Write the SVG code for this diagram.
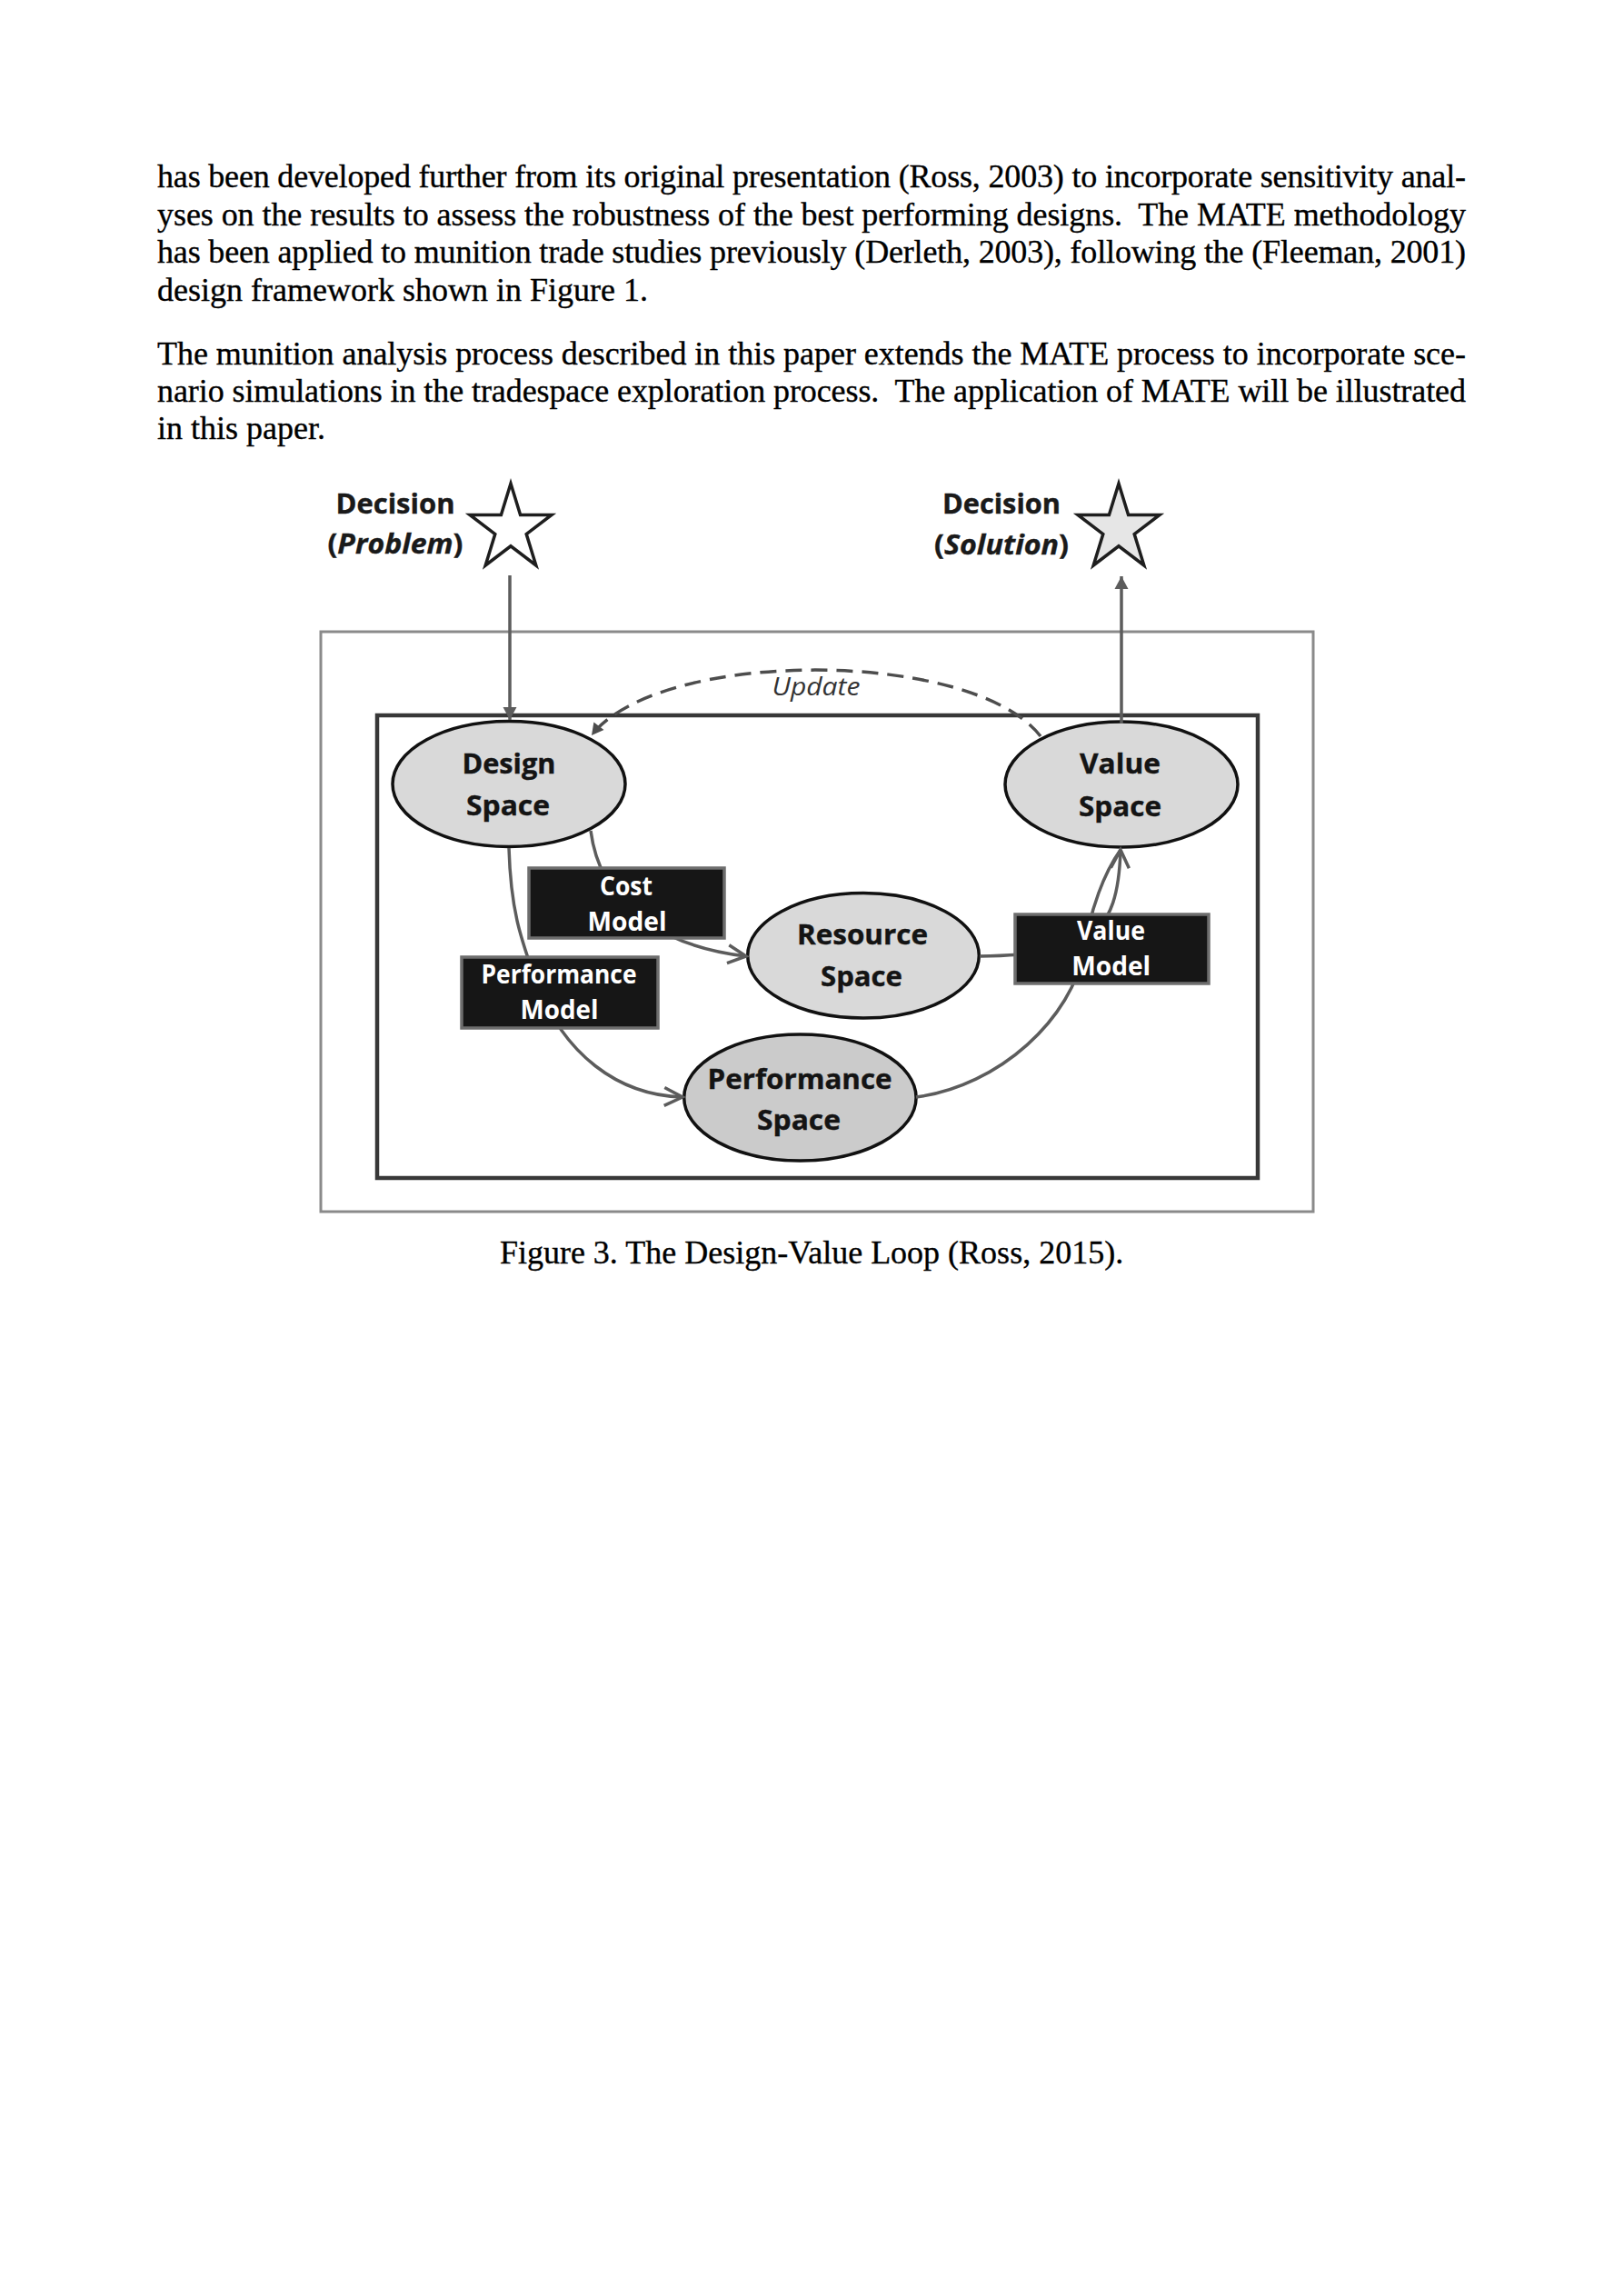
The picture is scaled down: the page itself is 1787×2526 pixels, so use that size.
<svg xmlns="http://www.w3.org/2000/svg" width="1787" height="2526" viewBox="0 0 1787 2526">
<style>
.body{font-family:"Liberation Serif","Times New Roman",serif;font-size:36px;fill:#000;stroke:#000;stroke-width:0.35}
.cap{font-family:"Liberation Serif","Times New Roman",serif;font-size:36px;fill:#000;stroke:#000;stroke-width:0.35;text-anchor:middle}
.lbl{font-family:"Open Sans","Liberation Sans",sans-serif;font-weight:700;font-size:31px;fill:#141414;stroke:#141414;stroke-width:0.4;text-anchor:middle}
.blbl{font-family:"Open Sans","Liberation Sans",sans-serif;font-weight:700;font-size:29px;fill:#fff;text-anchor:middle}
.dec{font-family:"Open Sans","Liberation Sans",sans-serif;font-weight:700;font-size:30px;fill:#1a1a1a;stroke:#1a1a1a;stroke-width:0.4;text-anchor:middle}
.upd{font-family:"Open Sans","Liberation Sans",sans-serif;font-style:italic;font-size:27px;fill:#333;text-anchor:middle}
.ell{fill:#d9d9d9;stroke:#111;stroke-width:3.5}
.box{fill:#161616;stroke:#6e6e6e;stroke-width:3.5}
.conn{fill:none;stroke:#5c5c5c;stroke-width:3.5}
.star{stroke:#1e1e1e;stroke-width:3.5;stroke-linejoin:miter}
</style>
<defs>
<marker id="arrFill" markerUnits="userSpaceOnUse" markerWidth="16" markerHeight="16" refX="14" refY="7.5" orient="auto" overflow="visible">
<path d="M0,0 L14,7.5 L0,15 z" fill="#5c5c5c" stroke="none"/>
</marker>
<marker id="arrSmall" markerUnits="userSpaceOnUse" markerWidth="16" markerHeight="16" refX="13" refY="7" orient="auto" overflow="visible">
<path d="M0,0 L13,7 L0,14 z" fill="#4d4d4d" stroke="none"/>
</marker>
<marker id="arrOpen" markerUnits="userSpaceOnUse" markerWidth="22" markerHeight="22" refX="20" refY="10" orient="auto" overflow="visible">
<path d="M0,0 L20,10 L0,20" fill="none" stroke="#5c5c5c" stroke-width="3.5"/>
</marker>
<path id="starShape" d="M0,-49.75 L10.6,-15.35 L45,-15.35 L17.2,5.85 L27.8,40.25 L0,19 L-27.8,40.25 L-17.2,5.85 L-45,-15.35 L-10.6,-15.35 Z"/>
</defs>
<rect width="1787" height="2526" fill="#fff"/>

<g id="body-text">
<text class="body" x="173" y="206" textLength="1440" xml:space="preserve">has been developed further from its original presentation (Ross, 2003) to incorporate sensitivity anal-</text>
<text class="body" x="173" y="248" textLength="1440" xml:space="preserve">yses on the results to assess the robustness of the best performing designs.  The MATE methodology</text>
<text class="body" x="173" y="289" textLength="1440" xml:space="preserve">has been applied to munition trade studies previously (Derleth, 2003), following the (Fleeman, 2001)</text>
<text class="body" x="173" y="331" xml:space="preserve">design framework shown in Figure 1.</text>
<text class="body" x="173" y="401" textLength="1440" xml:space="preserve">The munition analysis process described in this paper extends the MATE process to incorporate sce-</text>
<text class="body" x="173" y="442" textLength="1440" xml:space="preserve">nario simulations in the tradespace exploration process.  The application of MATE will be illustrated</text>
<text class="body" x="173" y="483" xml:space="preserve">in this paper.</text>
</g>

<g id="frame-outer">
<rect x="353" y="695" width="1092" height="638" fill="none" stroke="#8a8a8a" stroke-width="3"/>
</g>
<g id="frame-inner">
<rect x="415" y="787" width="969" height="509" fill="none" stroke="#383838" stroke-width="4.5"/>
</g>

<g id="decision-problem">
<use href="#starShape" x="562" y="581.75" fill="#fff" class="star"/>
<text class="dec" x="435" y="565" textLength="131" lengthAdjust="spacingAndGlyphs">Decision</text>
<text class="dec" x="435" y="609" textLength="149" lengthAdjust="spacingAndGlyphs">(<tspan font-style="italic">Problem</tspan>)</text>
</g>

<g id="decision-solution">
<use href="#starShape" x="1231" y="581.75" fill="#e6e6e6" class="star"/>
<text class="dec" x="1102" y="565" textLength="130" lengthAdjust="spacingAndGlyphs">Decision</text>
<text class="dec" x="1102" y="610" textLength="148" lengthAdjust="spacingAndGlyphs">(<tspan font-style="italic">Solution</tspan>)</text>
</g>

<g id="design-space">
<ellipse class="ell" cx="560" cy="862.5" rx="128" ry="69"/>
<text class="lbl" x="560" y="851" textLength="103" lengthAdjust="spacingAndGlyphs">Design</text>
<text class="lbl" x="559" y="897" textLength="92" lengthAdjust="spacingAndGlyphs">Space</text>
</g>

<g id="value-space">
<ellipse class="ell" cx="1234" cy="863" rx="128" ry="69"/>
<text class="lbl" x="1232.5" y="851" textLength="89" lengthAdjust="spacingAndGlyphs">Value</text>
<text class="lbl" x="1232.5" y="898" textLength="91" lengthAdjust="spacingAndGlyphs">Space</text>
</g>

<g id="resource-space">
<ellipse class="ell" cx="950" cy="1051.3" rx="127.3" ry="68.7"/>
<text class="lbl" x="949" y="1039" textLength="144" lengthAdjust="spacingAndGlyphs">Resource</text>
<text class="lbl" x="948" y="1085" textLength="90" lengthAdjust="spacingAndGlyphs">Space</text>
</g>

<g id="performance-space">
<ellipse class="ell" cx="880.4" cy="1207.5" rx="127.7" ry="69.5" style="fill:#cbcbcb"/>
<text class="lbl" x="880" y="1198" textLength="203" lengthAdjust="spacingAndGlyphs">Performance</text>
<text class="lbl" x="879" y="1243" textLength="92" lengthAdjust="spacingAndGlyphs">Space</text>
</g>

<g id="connectors">
<path class="conn" d="M561 633 L561 792" marker-end="url(#arrFill)"/>
<path class="conn" d="M1234 796 L1234 634" marker-end="url(#arrFill)"/>
<path d="M1145 810 C1070 713 725 713 651 809" fill="none" stroke="#4d4d4d" stroke-width="3.5" stroke-dasharray="18 10" marker-end="url(#arrSmall)"/>
<path class="conn" d="M650 914 C660 990 720 1040 821 1052" marker-end="url(#arrOpen)"/>
<path class="conn" d="M560 933 C562 1000 572 1030 590 1080 C620 1160 680 1205 751 1207" marker-end="url(#arrOpen)"/>
<path class="conn" d="M1078 1052 C1200 1050 1230 1030 1233 935" marker-end="url(#arrOpen)"/>
<path class="conn" d="M1008 1207 C1100 1195 1180 1120 1193 1045 C1200 1000 1215 960 1233 935"/>
<text class="upd" x="898" y="765" textLength="97" lengthAdjust="spacingAndGlyphs">Update</text>
</g>

<g id="cost-model">
<rect class="box" x="582" y="955" width="215" height="77"/>
<text class="blbl" x="689" y="985" textLength="58" lengthAdjust="spacingAndGlyphs">Cost</text>
<text class="blbl" x="690" y="1024" textLength="87" lengthAdjust="spacingAndGlyphs">Model</text>
</g>

<g id="performance-model">
<rect class="box" x="508" y="1053" width="216" height="78"/>
<text class="blbl" x="615" y="1082" textLength="171" lengthAdjust="spacingAndGlyphs">Performance</text>
<text class="blbl" x="615.5" y="1121" textLength="86" lengthAdjust="spacingAndGlyphs">Model</text>
</g>

<g id="value-model">
<rect class="box" x="1117" y="1006" width="213" height="76"/>
<text class="blbl" x="1222.5" y="1034" textLength="75" lengthAdjust="spacingAndGlyphs">Value</text>
<text class="blbl" x="1222.7" y="1073" textLength="87" lengthAdjust="spacingAndGlyphs">Model</text>
</g>

<g id="caption">
<text class="cap" x="893" y="1390">Figure 3. The Design-Value Loop (Ross, 2015).</text>
</g>
</svg>
